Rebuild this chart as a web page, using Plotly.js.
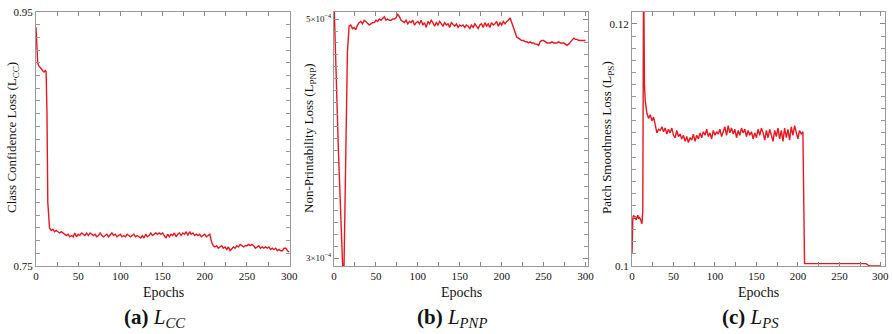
<!DOCTYPE html>
<html>
<head>
<meta charset="utf-8">
<script src="https://cdn.plot.ly/plotly-3.0.1.min.js"></script>
<style>html,body{margin:0;padding:0;background:#fff;}#chart{width:892px;height:334px;}</style>
</head>
<body>
<div id="chart"></div>
<script>
// Shared epoch axis (dense at the start, every 2 epochs afterwards)
const epochs = [
  0,1,2,3,4,5,6,7,8,9,
  10,11,12,13,14,15,16,18,20,22,
  24,26,28,30,32,34,36,38,40,42,
  44,46,48,50,52,54,56,58,60,62,
  64,66,68,70,72,74,76,78,80,82,
  84,86,88,90,92,94,96,98,100,102,
  104,106,108,110,112,114,116,118,120,122,
  124,126,128,130,132,134,136,138,140,142,
  144,146,148,150,152,154,156,158,160,162,
  164,166,168,170,172,174,176,178,180,182,
  184,186,188,190,192,194,196,198,200,202,
  204,206,208,210,212,214,216,218,220,222,
  224,226,228,230,232,234,236,238,240,242,
  244,246,248,250,252,254,256,258,260,262,
  264,266,268,270,272,274,276,278,280,282,
  284,286,288,290,292,294,296,298,300
];

// (a) Class confidence loss
const lossCC = [
  0.938,0.918,0.910,0.908,0.907,0.907,0.906,0.905,0.904,0.903,
  0.903,0.904,0.903,0.870,0.800,0.789,0.780,0.778,0.779,0.777,
  0.778,0.777,0.776,0.777,0.776,0.775,0.774,0.775,0.773,0.774,
  0.773,0.776,0.773,0.775,0.774,0.776,0.775,0.774,0.776,0.774,
  0.776,0.775,0.774,0.775,0.773,0.774,0.776,0.774,0.773,0.774,
  0.775,0.773,0.775,0.776,0.774,0.775,0.773,0.774,0.775,0.773,
  0.774,0.773,0.775,0.774,0.773,0.774,0.775,0.773,0.774,0.773,
  0.772,0.774,0.772,0.775,0.773,0.774,0.776,0.774,0.775,0.776,
  0.775,0.776,0.775,0.776,0.774,0.772,0.775,0.773,0.775,0.774,
  0.776,0.773,0.775,0.776,0.774,0.776,0.775,0.777,0.774,0.777,
  0.775,0.776,0.774,0.775,0.774,0.775,0.773,0.774,0.775,0.773,
  0.774,0.775,0.769,0.766,0.765,0.766,0.764,0.765,0.766,0.764,
  0.765,0.763,0.765,0.762,0.764,0.765,0.764,0.766,0.765,0.767,
  0.766,0.765,0.766,0.766,0.767,0.766,0.767,0.766,0.764,0.765,
  0.766,0.764,0.765,0.764,0.765,0.764,0.765,0.763,0.764,0.763,
  0.764,0.762,0.763,0.762,0.762,0.764,0.764,0.762,0.761
];

// (b) Non-printability loss, in units of 1e-4
const lossPNP = [
  5.15,4.95,4.70,4.45,4.20,3.95,3.70,3.45,3.20,2.95,
  2.80,2.80,2.95,3.45,3.95,4.50,4.72,4.94,4.95,4.92,
  4.93,4.91,4.95,4.97,4.98,4.96,4.99,4.98,4.96,4.95,
  4.96,4.97,4.97,4.99,4.98,5.00,4.99,5.01,5.02,4.99,
  5.00,4.99,4.99,5.00,5.00,5.01,5.04,5.02,4.99,4.98,
  4.97,4.99,4.96,4.98,4.97,4.99,4.95,4.97,4.98,4.96,
  4.99,4.95,4.97,4.93,4.98,4.96,4.99,4.97,4.94,4.97,
  4.95,4.98,4.96,4.94,4.97,4.95,4.96,4.93,4.97,4.95,
  4.94,4.96,4.93,4.95,4.94,4.95,4.93,4.95,4.94,4.92,
  4.95,4.93,4.96,4.94,4.92,4.95,4.96,4.93,4.97,4.94,
  4.96,4.93,4.97,4.95,4.96,4.98,4.94,4.97,4.95,4.98,
  4.96,4.98,4.99,5.01,4.97,4.92,4.88,4.85,4.84,4.83,
  4.82,4.82,4.81,4.81,4.80,4.81,4.80,4.80,4.79,4.79,
  4.78,4.81,4.82,4.82,4.81,4.80,4.80,4.80,4.81,4.80,
  4.80,4.80,4.81,4.80,4.80,4.80,4.79,4.78,4.79,4.81,
  4.83,4.84,4.83,4.83,4.82,4.82,4.82,4.82,4.82
];

// (c) Patch smoothness loss
const lossPS = [
  0.1010,0.1040,0.1042,0.1039,0.1041,0.1038,0.1040,0.1042,0.1039,0.1040,
  0.1039,0.1037,0.1035,0.1045,0.1250,0.1150,0.1136,0.1126,0.1122,0.1125,
  0.1120,0.1123,0.1116,0.1110,0.1113,0.1112,0.1115,0.1111,0.1114,0.1109,
  0.1113,0.1110,0.1114,0.1108,0.1106,0.1112,0.1107,0.1109,0.1105,0.1108,
  0.1103,0.1107,0.1102,0.1106,0.1104,0.1109,0.1103,0.1108,0.1105,0.1110,
  0.1106,0.1111,0.1108,0.1113,0.1107,0.1110,0.1105,0.1112,0.1108,0.1111,
  0.1109,0.1113,0.1107,0.1111,0.1115,0.1108,0.1116,0.1110,0.1114,0.1109,
  0.1113,0.1106,0.1112,0.1108,0.1114,0.1110,0.1113,0.1107,0.1112,0.1108,
  0.1111,0.1105,0.1110,0.1106,0.1113,0.1108,0.1114,0.1110,0.1104,0.1112,
  0.1106,0.1113,0.1108,0.1103,0.1112,0.1107,0.1114,0.1105,0.1112,0.1103,
  0.1114,0.1106,0.1113,0.1104,0.1115,0.1108,0.1116,0.1110,0.1105,0.1112,
  0.1109,0.1111,0.1002,0.1002,0.1002,0.1002,0.1002,0.1002,0.1002,0.1002,
  0.1002,0.1002,0.1002,0.1002,0.1002,0.1002,0.1002,0.1002,0.1002,0.1002,
  0.1002,0.1002,0.1002,0.1002,0.1002,0.1002,0.1002,0.1002,0.1002,0.1002,
  0.1002,0.1002,0.1002,0.1002,0.1002,0.1002,0.1002,0.1002,0.1002,0.1002,
  0.1001,0.1000,0.1000,0.1000,0.1000,0.1000,0.1000,0.1000,0.1000
];

// Tick labels (only the end values are labelled on the y axes)
const xTicks = [0,50,100,150,200,250,300];
const xTicksEdge = [0,50,100,150,200,250];   // panel (c): last label is placed on the axis scale below
const xLastTick = 300;
const yTicksCC = [0.75,0.95];
const yLabelsCC = ['0.75','0.95'];
const yTicksPNP = [3.0,5.0];
const yLabelsPNP = ['3×10<sup>−4</sup>','5×10<sup>−4</sup>'];
const yTicksPS = [0.100,0.120];
const yLabelsPS = ['0.1','0.12'];

const W = 892, H = 334;
const px = x => x / W;
const py = y => 1 - y / H;
const SERIF = 'Liberation Serif, Times New Roman, serif';
const RED = '#e8171f';

function xAxis(l, r, maxX, anchor, ticks) {
  return {
    domain: [px(l), px(r)], range: [0, maxX], anchor: anchor,
    tickmode: 'array', tickvals: ticks, ticktext: ticks.map(String),
    ticks: 'inside', ticklen: 4, tickcolor: '#888',
    minor: {dtick: 25, tick0: 0, ticks: 'inside', ticklen: 4, tickcolor: '#888'},
    showline: true, linecolor: '#999', linewidth: 1, mirror: 'ticks',
    showgrid: false, zeroline: false, ticklabeloverflow: 'allow',
    tickfont: {family: SERIF, size: 11, color: '#111'},
    fixedrange: true
  };
}
function yAxis(range, vals, labels, minorStep, minor0, anchor, fs) {
  return {
    domain: [py(266), py(12)], range: range, anchor: anchor,
    tickmode: 'array', tickvals: vals, ticktext: labels,
    ticks: 'inside', ticklen: 5, tickcolor: '#888',
    minor: {dtick: minorStep, tick0: minor0, ticks: 'inside', ticklen: 4, tickcolor: '#999'},
    showline: true, linecolor: '#999', linewidth: 1, mirror: 'ticks',
    showgrid: false, zeroline: false, ticklabeloverflow: 'allow',
    tickfont: {family: SERIF, size: fs, color: '#111'},
    fixedrange: true
  };
}

const traces = [
  {x: epochs, y: lossCC, xaxis: 'x', yaxis: 'y', type: 'scatter', mode: 'lines',
   line: {color: RED, width: 1.4}, hoverinfo: 'skip'},
  {x: epochs, y: lossPNP, xaxis: 'x2', yaxis: 'y2', type: 'scatter', mode: 'lines',
   line: {color: RED, width: 1.4}, hoverinfo: 'skip'},
  {x: epochs, y: lossPS, xaxis: 'x3', yaxis: 'y3', type: 'scatter', mode: 'lines',
   line: {color: RED, width: 1.4}, hoverinfo: 'skip'}
];

function ann(text, x, y, size, angle) {
  return {text: text, xref: 'paper', yref: 'paper', x: px(x), y: py(y),
          xanchor: 'center', yanchor: 'middle', showarrow: false,
          textangle: angle || 0, font: {family: SERIF, size: size, color: '#111'}};
}

const layout = {
  width: W, height: H,
  margin: {l: 0, r: 0, t: 0, b: 0},
  paper_bgcolor: '#fff', plot_bgcolor: '#fff',
  showlegend: false,
  xaxis: xAxis(36, 290, 301, 'y', xTicks),
  yaxis: yAxis([0.75, 0.95], yTicksCC, yLabelsCC, 0.01, 0.75, 'x', 11),
  xaxis2: xAxis(334, 588, 303, 'y2', xTicks),
  yaxis2: yAxis([2.933, 5.059], yTicksPNP, yLabelsPNP, 0.1, 3.0, 'x2', 9),
  xaxis3: xAxis(632, 885, 305, 'y3', xTicksEdge),
  yaxis3: yAxis([0.1, 0.12099], yTicksPS, yLabelsPS, 0.001, 0.1, 'x3', 11),
  annotations: [
    {text: String(xLastTick), xref: 'x3', yref: 'paper', x: xLastTick, y: py(275.5),
     xanchor: 'center', yanchor: 'middle', showarrow: false,
     font: {family: SERIF, size: 11, color: '#111'}},
    ann('Epochs', 163, 292, 14),
    ann('Epochs', 461, 292, 14),
    ann('Epochs', 758, 292, 14),
    ann('Class Confidence Loss (L<sub>CC</sub>)', 12, 138, 13, -90),
    ann('Non-Printability Loss (L<sub>PNP</sub>)', 309, 138, 13, -90),
    ann('Patch Smoothness Loss (L<sub>PS</sub>)', 607, 138, 13, -90),
    ann('<b>(a)</b> <i>L<sub>CC</sub></i>', 154, 318, 21),
    ann('<b>(b)</b> <i>L<sub>PNP</sub></i>', 452, 318, 21),
    ann('<b>(c)</b> <i>L<sub>PS</sub></i>', 750, 318, 21)
  ]
};

Plotly.newPlot('chart', traces, layout, {displayModeBar: false, staticPlot: true});
</script>
</body>
</html>
